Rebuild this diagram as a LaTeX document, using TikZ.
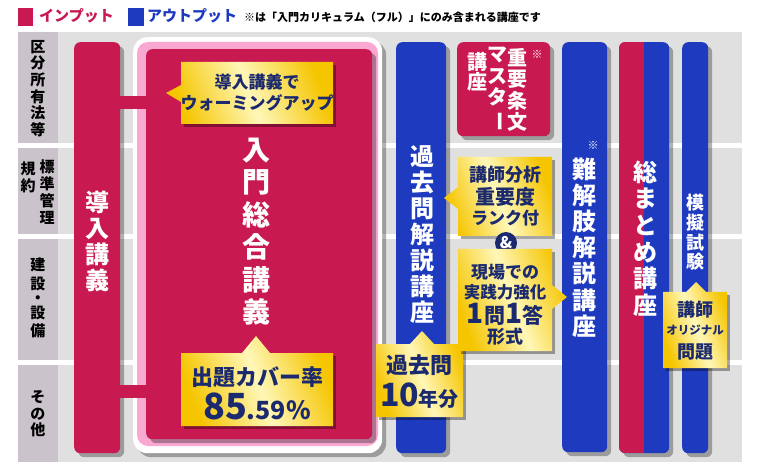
\documentclass[tikz,border=0pt]{standalone}
\usepackage{fontspec}
\setmainfont{Noto Sans CJK JP}
\usetikzlibrary{shadows}
\definecolor{mag}{HTML}{C81A50}
\definecolor{blu}{HTML}{1E3BC0}
\definecolor{pinkf}{HTML}{F9A8D2}
\definecolor{bgg}{HTML}{E0E0E0}
\definecolor{labc}{HTML}{CBC3CB}
\definecolor{navy}{HTML}{1B2A6E}
\definecolor{gold}{HTML}{F5C500}
\definecolor{goldl}{HTML}{FFF7B8}
\tikzset{
  barbox/.style={rounded corners=6pt, inner sep=0pt, draw=none, anchor=north west,
    drop shadow={shadow xshift=4pt, shadow yshift=-4pt, opacity=0.3, fill=black}},
  vtxt/.style={align=center, text=white, inner sep=0pt},
  labtxt/.style={align=center, text=black, inner sep=0pt, font=\bfseries\fontsize{15}{17}\selectfont},
  conn/.style={draw=mag, line width=13pt},
  callout/.style={left color=gold, right color=gold, middle color=goldl, shading angle=110},
  cshadow/.style={fill=black, opacity=0.35},
  ctxt/.style={align=center, text=navy, inner sep=0pt},
}
\begin{document}
\begin{tikzpicture}[x=1pt,y=-1pt]
\useasboundingbox (0,0) rectangle (760,470);
\fill[white] (0,0) rectangle (760,470);
% legend
\fill[mag] (18,8) rectangle (33,26);
\node[anchor=west, inner sep=0pt, text=mag, font=\bfseries\fontsize{15}{15}\selectfont] (lgin) at (39,16) {インプット};
\fill[blu] (128,8) rectangle (144,26);
\node[anchor=west, inner sep=0pt, text=blu, font=\bfseries\fontsize{15}{15}\selectfont] (lgout) at (147,16) {アウトプット};
\node[anchor=west, inner sep=0pt, text=black, font=\bfseries\fontsize{11}{11}\selectfont] (note) at (244,17) {※は「入門カリキュラム（フル）」にのみ含まれる講座です};
% rows
\fill[bgg] (18,32) rectangle (742,143);
\fill[bgg] (18,148) rectangle (742,234);
\fill[bgg] (18,239) rectangle (742,360);
\fill[bgg] (18,365) rectangle (742,462);
\fill[labc] (18,32) rectangle (58,143);
\fill[labc] (18,148) rectangle (58,234);
\fill[labc] (18,239) rectangle (58,360);
\fill[labc] (18,365) rectangle (58,462);
\node[labtxt, font=\bfseries\fontsize{15}{16.6}\selectfont] (r1) at (38,88.5) {区\\分\\所\\有\\法\\等};
\node[labtxt] (r2a) at (47,192.5) {標\\準\\管\\理};
\node[labtxt] (r2b) at (28,177) {規\\約};
\node[labtxt, font=\bfseries\fontsize{15}{18.5}\selectfont] (r3) at (38,298) {建\\設\\[-4pt]・\\[-4pt]設\\備};
\node[labtxt, font=\bfseries\fontsize{15}{16.5}\selectfont] (r4) at (38,414) {そ\\の\\他};
% bars
\node[barbox, fill=mag, minimum width=46pt, minimum height=411pt] (lb) at (74,42) {};
\node[barbox, fill=white, rounded corners=14pt, minimum width=249pt, minimum height=416pt] (cw) at (133,37) {};
\fill[pinkf, rounded corners=11pt] (137,42) rectangle (378,446);
\node[barbox, fill=mag, drop shadow={opacity=0}, minimum width=226pt, minimum height=390pt] (cin) at (146,49) {};
\node[barbox, fill=blu, minimum width=50pt, minimum height=411pt] (kk) at (396,42) {};
\node[barbox, fill=mag, minimum width=93pt, minimum height=94pt] (jj) at (457,42) {};
\node[barbox, fill=blu, minimum width=45pt, minimum height=410pt] (nk) at (562,42) {};
\node[barbox, fill=blu, minimum width=50pt, minimum height=411pt] (sm) at (619,42) {};
\begin{scope}
\clip[rounded corners=6pt] (619,42) rectangle (669,453);
\fill[mag] (619,42) rectangle (644,453);
\end{scope}
\node[barbox, fill=blu, minimum width=26pt, minimum height=411pt] (mg) at (682,42) {};
% connectors
\coordinate (k1) at (0,103);
\coordinate (k2) at (0,391);
\draw[conn] (lb.east |- k1) -- (cin.west |- k1);
\draw[conn] (lb.east |- k2) -- (cin.west |- k2);
% vertical texts
\node[vtxt, font=\bfseries\fontsize{24}{26}\selectfont] (lbt) at (97,241.5) {導\\入\\講\\義};
\node[vtxt, font=\bfseries\fontsize{28}{32.5}\selectfont] (cint) at (256.5,231.5) {入\\門\\総\\合\\講\\義};
\node[vtxt, font=\bfseries\fontsize{24}{26}\selectfont] (kkt) at (422,234.5) {過\\去\\問\\解\\説\\講\\座};
\node[vtxt, anchor=north, font=\bfseries\fontsize{20}{21.5}\selectfont] (jj1) at (517,48) {重\\要\\条\\文};
\node[vtxt, anchor=north, font=\bfseries\fontsize{20}{21.5}\selectfont] (jj2) at (497,47) {マ\\ス\\タ\\\rotatebox[origin=c]{-90}{ー}};
\node[vtxt, anchor=north, font=\bfseries\fontsize{20}{20}\selectfont] (jj3) at (477,52) {講\\座};
\node[vtxt, font=\fontsize{11}{11}\selectfont] (jjn) at (537,54) {※};
\node[vtxt, font=\fontsize{11}{11}\selectfont] (nkn) at (593,145) {※};
\node[vtxt, font=\bfseries\fontsize{24}{26.2}\selectfont] (nkt) at (584,247.5) {難\\解\\肢\\解\\説\\講\\座};
\node[vtxt, font=\bfseries\fontsize{24}{26.6}\selectfont] (smt) at (645,238.5) {総\\ま\\と\\め\\講\\座};
\node[vtxt, font=\bfseries\fontsize{18}{19.7}\selectfont] (mgt) at (695,232.5) {模\\擬\\試\\験};
% callouts
\fill[cshadow] (184,65) -- (336,65) -- (336,127) -- (184,127) -- cycle;
\shade[callout] (181,62) -- (333,62) -- (333,124) -- (181,124) -- (181,102) -- (166,93) -- (181,85) -- cycle;
\node[ctxt, font=\bfseries\fontsize{17}{21}\selectfont] (w1) at (257,93) {導入講義で\\ウォーミングアップ};

\fill[cshadow] (184,356) -- (336,356) -- (336,429) -- (184,429) -- cycle;
\shade[callout] (181,353) -- (242,353) -- (256,336) -- (270,353) -- (333,353) -- (333,426) -- (181,426) -- cycle;
\node[ctxt, font=\bfseries\fontsize{22}{22}\selectfont] (c2a) at (257,377) {出題カバー率};
\node[ctxt, font=\bfseries] (c2b) at (257,406) {{\fontsize{36}{36}\selectfont 85}{\fontsize{25}{25}\selectfont .59\%}};

\fill[cshadow] (379,347) -- (466,347) -- (466,420) -- (379,420) -- cycle;
\shade[callout] (376,344) -- (410,344) -- (422,331) -- (434,344) -- (463,344) -- (463,417) -- (376,417) -- cycle;
\node[ctxt, font=\bfseries\fontsize{22}{22}\selectfont] (c3a) at (419.5,365) {過去問};
\node[ctxt, font=\bfseries] (c3b) at (419.5,396) {{\fontsize{32}{32}\selectfont 10}{\fontsize{20}{20}\selectfont 年分}};

\fill[cshadow] (461,160) -- (555,160) -- (555,239) -- (461,239) -- cycle;
\shade[callout] (458,157) -- (552,157) -- (552,236) -- (458,236) -- (458,209) -- (444,198) -- (458,187) -- cycle;
\node[ctxt, font=\bfseries\fontsize{18}{18}\selectfont] (c4a) at (505,175) {講師分析};
\node[ctxt, font=\bfseries\fontsize{20}{20}\selectfont] (c4b) at (505,197) {重要度};
\node[ctxt, font=\bfseries\fontsize{17}{17}\selectfont] (c4c) at (505,218) {ランク付};
\node[circle, fill=navy, inner sep=0pt, minimum size=22pt, text=white, font=\bfseries\fontsize{16}{16}\selectfont] (amp) at (506,243) {\&};

\fill[cshadow] (461,252) -- (555,252) -- (555,354) -- (461,354) -- cycle;
\shade[callout] (458,249) -- (552,249) -- (552,285) -- (567,297) -- (552,309) -- (552,351) -- (458,351) -- cycle;
\node[ctxt, font=\bfseries\fontsize{17}{17}\selectfont] (c5a) at (505,272) {現場での};
\node[ctxt, font=\bfseries\fontsize{16.5}{16.5}\selectfont] (c5b) at (505,292) {実践力強化};
\node[ctxt, font=\bfseries\fontsize{21}{21}\selectfont] (c5c) at (505,314) {{\fontsize{28}{28}\selectfont 1}問{\fontsize{28}{28}\selectfont 1}答};
\node[ctxt, font=\bfseries\fontsize{18}{18}\selectfont] (c5d) at (505,337) {形式};

\fill[cshadow] (666,295) -- (730,295) -- (730,371) -- (666,371) -- cycle;
\shade[callout] (663,292) -- (686,292) -- (696,282) -- (706,292) -- (727,292) -- (727,368) -- (663,368) -- cycle;
\node[ctxt, font=\bfseries\fontsize{18}{18}\selectfont] (c6a) at (695,310) {講師};
\node[ctxt, font=\bfseries\fontsize{11.5}{11.5}\selectfont] (c6b) at (695,330) {オリジナル};
\node[ctxt, font=\bfseries\fontsize{18}{18}\selectfont] (c6c) at (695,352) {問題};
\end{tikzpicture}
\end{document}
